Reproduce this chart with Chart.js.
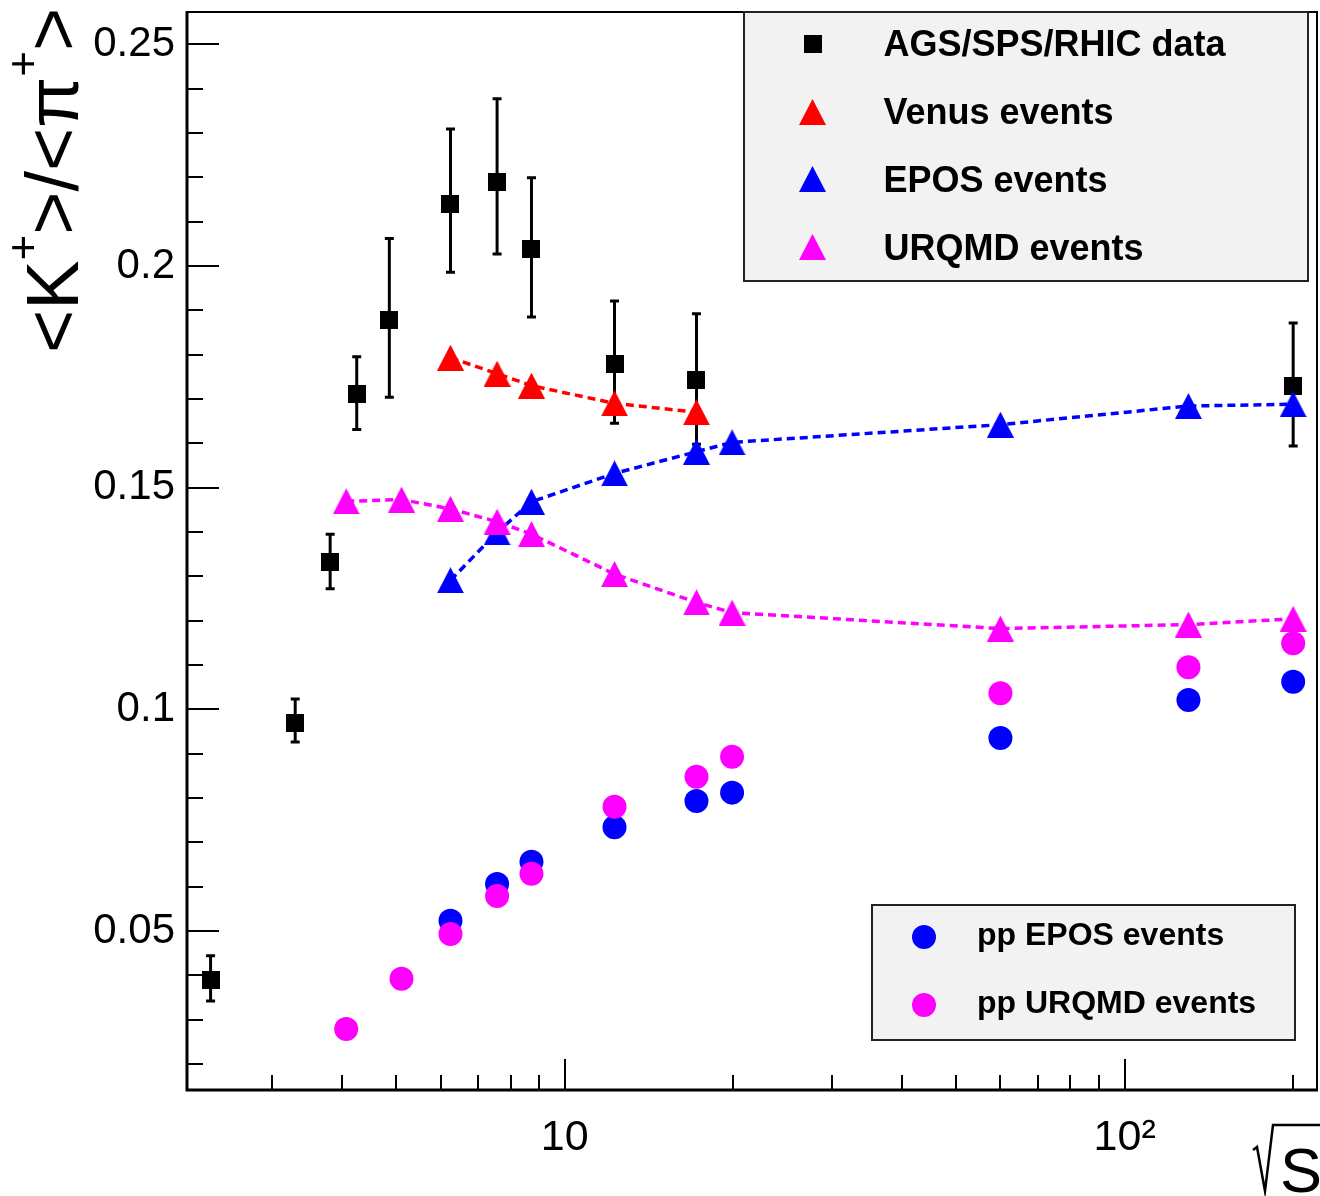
<!DOCTYPE html>
<html><head><meta charset="utf-8">
<script src="https://cdn.jsdelivr.net/npm/chart.js@4.4.1/dist/chart.umd.min.js"></script>
<style>html,body{margin:0;padding:0;background:#fff;}#wrap{width:1320px;height:1196px;position:relative;}</style>
</head><body><div id="wrap"><canvas id="c" width="1320" height="1196"></canvas></div>
<script>
// ---- data ----
const dataX     = [2.33, 3.30, 3.81, 4.25, 4.86, 6.25, 7.57, 8.72, 12.27, 17.19, 200];
const dataY     = [0.0389, 0.0970, 0.1333, 0.1711, 0.1878, 0.2139, 0.2189, 0.2038, 0.1778, 0.1743, 0.1729];
const dataErrHi = [0.0055, 0.0053, 0.0062, 0.0084, 0.0184, 0.0170, 0.0188, 0.0161, 0.0143, 0.0149, 0.0142];
const dataErrLo = [0.0047, 0.0044, 0.0061, 0.0080, 0.0174, 0.0153, 0.0162, 0.0153, 0.0133, 0.0145, 0.0135];
const venusX  = [6.25, 7.57, 8.72, 12.27, 17.19];
const venusY  = [0.1793, 0.1757, 0.1730, 0.1690, 0.1670];
const eposX   = [6.25, 7.57, 8.72, 12.27, 17.19, 19.9, 60, 130, 200];
const eposY   = [0.1291, 0.1399, 0.1468, 0.1532, 0.1581, 0.1602, 0.1642, 0.1684, 0.1688];
const urqmdX  = [4.07, 5.11, 6.25, 7.57, 8.72, 12.27, 17.19, 19.9, 60, 130, 200];
const urqmdY  = [0.1469, 0.1473, 0.1452, 0.1423, 0.1395, 0.1305, 0.1241, 0.1218, 0.1182, 0.1191, 0.1204];
const ppEposX = [6.25, 7.57, 8.72, 12.27, 17.19, 19.9, 60, 130, 200];
const ppEposY = [0.0523, 0.0606, 0.0656, 0.0734, 0.0793, 0.0812, 0.0935, 0.1021, 0.1062];
const ppUrqmdX = [4.07, 5.11, 6.25, 7.57, 8.72, 12.27, 17.19, 19.9, 60, 130, 200];
const ppUrqmdY = [0.0279, 0.0392, 0.0493, 0.0579, 0.0629, 0.0780, 0.0848, 0.0893, 0.1036, 0.1095, 0.1149];
const seriesLabels = ['AGS/SPS/RHIC data', 'Venus events', 'EPOS events', 'URQMD events', 'pp EPOS events', 'pp URQMD events'];
const yTickValues = [0.05, 0.1, 0.15, 0.2, 0.25];
const yTickLabels = ['0.05', '0.1', '0.15', '0.2', '0.25'];
const yMinorTicks = [0.02,0.03,0.04,0.06,0.07,0.08,0.09,0.11,0.12,0.13,0.14,0.16,0.17,0.18,0.19,0.21,0.22,0.23,0.24];
const xTickValues = [10, 100];
const xTickLabels = ['10', '10\u00B2'];
const xMinorTicks = [3,4,5,6,7,8,9,20,30,40,50,60,70,80,90,200];
const yTitleParts = ['<K', '+', '>/<\u03C0', '+', '>'];
const xTitleText = 'S';

const FONT = '"Liberation Sans", Arial, Helvetica, sans-serif';
const RED = '#ff0000', BLUE = '#0000ff', MAG = '#ff00ff';

function triCanvas(color) {
  const c = document.createElement('canvas'); c.width = 27; c.height = 26;
  const g = c.getContext('2d'); g.fillStyle = color;
  g.beginPath(); g.moveTo(13.5, 0); g.lineTo(27, 26); g.lineTo(0, 26); g.closePath(); g.fill();
  return c;
}
function sqCanvas(color) {
  const c = document.createElement('canvas'); c.width = 18; c.height = 18;
  const g = c.getContext('2d'); g.fillStyle = color; g.fillRect(0, 0, 18, 18);
  return c;
}
const triRed = triCanvas(RED), triBlue = triCanvas(BLUE), triMag = triCanvas(MAG), sqBlack = sqCanvas('#000');
const pts = (xs, ys) => xs.map((v, i) => ({x: v, y: ys[i]}));

const errorBars = {
  id: 'errorBars',
  beforeDatasetDraw(chart, args) {
    if (args.index !== 0) return;
    const {ctx} = chart, x = chart.scales.x, y = chart.scales.y;
    ctx.save(); ctx.strokeStyle = '#000'; ctx.lineWidth = 3;
    dataX.forEach((v, i) => {
      const px = x.getPixelForValue(v);
      const yt = y.getPixelForValue(dataY[i] + dataErrHi[i]);
      const yb = y.getPixelForValue(dataY[i] - dataErrLo[i]);
      ctx.beginPath(); ctx.moveTo(px, yt); ctx.lineTo(px, yb); ctx.stroke();
      ctx.beginPath();
      ctx.moveTo(px - 4.5, yt); ctx.lineTo(px + 4.5, yt);
      ctx.moveTo(px - 4.5, yb); ctx.lineTo(px + 4.5, yb); ctx.stroke();
    });
    ctx.restore();
  }
};

const frameAndDecor = {
  id: 'frameAndDecor',
  afterDraw(chart) {
    const {ctx, chartArea: a} = chart, x = chart.scales.x, y = chart.scales.y;
    ctx.save();
    ctx.strokeStyle = '#000';
    // frame
    ctx.lineWidth = 2;
    ctx.beginPath(); ctx.moveTo(a.left, a.top + 1); ctx.lineTo(a.right - 1, a.top + 1); ctx.lineTo(a.right - 1, a.bottom); ctx.stroke();
    ctx.lineWidth = 3;
    ctx.beginPath(); ctx.moveTo(a.left + 1, a.top); ctx.lineTo(a.left + 1, a.bottom - 1); ctx.lineTo(a.right, a.bottom - 1); ctx.stroke();
    // ticks
    ctx.lineWidth = 2;
    ctx.beginPath();
    yTickValues.forEach(v => { const p = Math.round(y.getPixelForValue(v)); ctx.moveTo(a.left, p); ctx.lineTo(a.left + 33, p); });
    yMinorTicks.forEach(v => { const p = Math.round(y.getPixelForValue(v)); ctx.moveTo(a.left, p); ctx.lineTo(a.left + 17, p); });
    xTickValues.forEach(v => { const p = Math.round(x.getPixelForValue(v)); ctx.moveTo(p, a.bottom); ctx.lineTo(p, a.bottom - 32); });
    xMinorTicks.forEach(v => { const p = Math.round(x.getPixelForValue(v)); ctx.moveTo(p, a.bottom); ctx.lineTo(p, a.bottom - 16); });
    ctx.stroke();

    // legends
    const ds = chart.data.datasets;
    const drawMarker = (d, cx, cy) => {
      const st = d.pointStyle;
      if (typeof st === 'object') ctx.drawImage(st, cx - st.width / 2, cy - st.height / 2);
      else { ctx.fillStyle = d.pointBackgroundColor; ctx.beginPath(); ctx.arc(cx, cy, 12, 0, Math.PI * 2); ctx.fill(); }
    };
    ctx.fillStyle = '#f2f2f2'; ctx.fillRect(744, 12, 564, 269);
    ctx.strokeStyle = '#222'; ctx.lineWidth = 2; ctx.strokeRect(744, 12, 564, 269);
    const rowsA = [44, 112, 179, 247], baseA = [56, 124, 192, 260];
    ctx.font = 'bold 36px ' + FONT; ctx.textBaseline = 'alphabetic'; ctx.textAlign = 'left';
    for (let i = 0; i < 4; i++) { drawMarker(ds[i], 812.5, rowsA[i]); ctx.fillStyle = '#000'; ctx.fillText(ds[i].label, 883.5, baseA[i]); }
    ctx.fillStyle = '#f2f2f2'; ctx.fillRect(872, 905, 423, 135);
    ctx.strokeStyle = '#222'; ctx.strokeRect(872, 905, 423, 135);
    const rowsB = [937, 1005], baseB = [945, 1013];
    ctx.font = 'bold 32px ' + FONT;
    for (let i = 0; i < 2; i++) { drawMarker(ds[4 + i], 924, rowsB[i]); ctx.fillStyle = '#000'; ctx.fillText(ds[4 + i].label, 977, baseB[i]); }

    // y title
    ctx.save();
    ctx.translate(78, 353); ctx.rotate(-Math.PI / 2);
    ctx.fillStyle = '#000'; ctx.textBaseline = 'alphabetic'; ctx.textAlign = 'left';
    let cx = 0;
    yTitleParts.forEach((t, i) => {
      const sup = (i % 2 === 1);
      ctx.font = (sup ? '44px ' : '74px ') + FONT;
      ctx.fillText(t, cx, sup ? -40 : 0);
      cx += ctx.measureText(t).width;
    });
    ctx.restore();

    // x title: radical + S
    ctx.fillStyle = '#000'; ctx.font = '63px ' + FONT; ctx.textAlign = 'left'; ctx.textBaseline = 'alphabetic';
    ctx.fillText(xTitleText, 1280, 1192);
    ctx.strokeStyle = '#000'; ctx.lineWidth = 2.5; ctx.lineJoin = 'miter';
    ctx.beginPath(); ctx.moveTo(1253, 1150); ctx.lineTo(1257, 1147); ctx.lineTo(1265, 1191); ctx.lineTo(1273, 1125); ctx.lineTo(1320, 1125); ctx.stroke();
    ctx.restore();
  }
};

new Chart(document.getElementById('c'), {
  type: 'scatter',
  data: {
    datasets: [
      {label: seriesLabels[0], data: pts(dataX, dataY), pointStyle: sqBlack, pointRadius: 10, showLine: false, order: 6},
      {label: seriesLabels[1], data: pts(venusX, venusY), pointStyle: triRed, pointRadius: 13, showLine: true,
       borderColor: RED, borderWidth: 3.5, borderDash: [8, 5], order: 5},
      {label: seriesLabels[2], data: pts(eposX, eposY), pointStyle: triBlue, pointRadius: 13, showLine: true,
       borderColor: BLUE, borderWidth: 3.5, borderDash: [8, 5], order: 4},
      {label: seriesLabels[3], data: pts(urqmdX, urqmdY), pointStyle: triMag, pointRadius: 13, showLine: true,
       borderColor: MAG, borderWidth: 3.5, borderDash: [8, 5], order: 3},
      {label: seriesLabels[4], data: pts(ppEposX, ppEposY), pointStyle: 'circle', pointRadius: 12,
       pointBackgroundColor: BLUE, pointBorderWidth: 0, showLine: false, order: 2},
      {label: seriesLabels[5], data: pts(ppUrqmdX, ppUrqmdY), pointStyle: 'circle', pointRadius: 12,
       pointBackgroundColor: MAG, pointBorderWidth: 0, showLine: false, order: 1}
    ]
  },
  options: {
    responsive: false, animation: false, events: [],
    layout: {autoPadding: false, padding: {top: 11, right: 2, left: 0, bottom: 0}},
    plugins: {legend: {display: false}, tooltip: {enabled: false}},
    scales: {
      x: {
        type: 'logarithmic', min: 2.106, max: 221.5, bounds: 'data', position: 'bottom',
        grid: {display: false, drawTicks: false}, border: {display: false},
        afterBuildTicks: s => { s.ticks = xTickValues.map(v => ({value: v})); },
        afterFit: s => { s.height = 105; s.paddingLeft = 0; s.paddingRight = 0; s.paddingTop = 0; s.paddingBottom = 0; },
        ticks: {autoSkip: false, maxRotation: 0, padding: 21, color: '#000', font: {family: FONT, size: 43},
          callback: (v) => { const i = xTickValues.indexOf(v); return i >= 0 ? xTickLabels[i] : ''; }}
      },
      y: {
        type: 'linear', min: 0.0139, max: 0.2575, bounds: 'data', position: 'left',
        grid: {display: false, drawTicks: false}, border: {display: false},
        afterBuildTicks: s => { s.ticks = yTickValues.map(v => ({value: v})); },
        afterFit: s => { s.width = 186; s.paddingTop = 0; s.paddingBottom = 0; s.paddingLeft = 0; s.paddingRight = 0; },
        ticks: {autoSkip: false, padding: 11, color: '#000', font: {family: FONT, size: 42},
          callback: (v) => { const i = yTickValues.findIndex(t => Math.abs(t - v) < 1e-9); return i >= 0 ? yTickLabels[i] : ''; }}
      }
    }
  },
  plugins: [errorBars, frameAndDecor]
});
</script>
</body></html>
